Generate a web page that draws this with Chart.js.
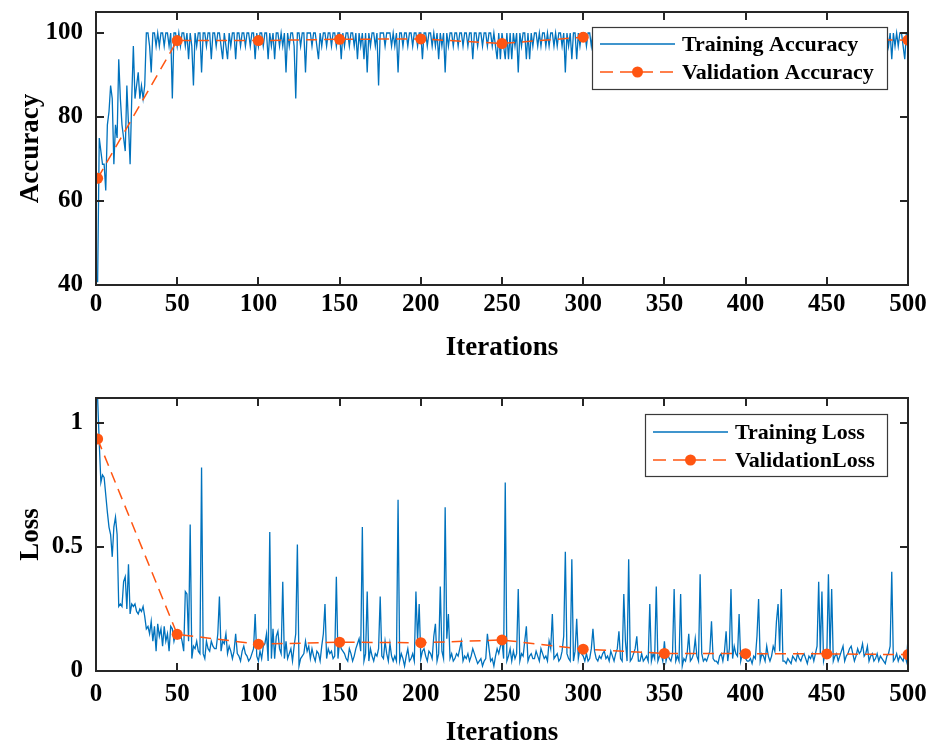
<!DOCTYPE html>
<html>
<head>
<meta charset="utf-8">
<script src="https://cdn.jsdelivr.net/npm/chart.js@4.4.1/dist/chart.umd.min.js"></script>
<style>
html,body{margin:0;padding:0;background:#fff;width:931px;height:745px;overflow:hidden}
.wrap{position:absolute;left:0;width:931px}
canvas{display:block}
</style>
</head>
<body>
<div class="wrap" style="top:0;height:372px"><canvas id="c1" width="931" height="372"></canvas></div>
<div class="wrap" style="top:372px;height:373px"><canvas id="c2" width="931" height="373"></canvas></div>
<script>
// ---------------- data ----------------
const iterations = Array.from({length: 500}, (_, i) => i + 1); // iteration index 1..500
const xTicks = [0, 50, 100, 150, 200, 250, 300, 350, 400, 450, 500];
const accTicks = [40, 60, 80, 100];
const lossTicks = [0, 0.5, 1];
const lossTickLabels = ['0', '0.5', '1'];

const trainingAccuracy = [
  40.63, 75, 71.88, 68.75, 68.75, 62.5, 78.13, 81.25, 87.5, 84.38,
  68.75, 78.13, 75, 93.75, 84.38, 78.13, 75, 71.88, 87.5, 78.13,
  68.75, 84.38, 96.88, 84.38, 87.5, 90.63, 84.38, 87.5, 84.38, 87.5,
  100, 100, 96.88, 90.63, 100, 100, 96.88, 100, 96.88, 100,
  100, 96.88, 100, 100, 96.88, 100, 84.38, 100, 100, 96.88,
  100, 96.88, 100, 100, 96.88, 100, 93.75, 100, 96.88, 87.5,
  100, 96.88, 100, 100, 90.63, 100, 100, 96.88, 100, 100,
  93.75, 100, 100, 96.88, 100, 100, 96.88, 93.75, 100, 96.88,
  93.75, 100, 96.88, 100, 100, 93.75, 100, 100, 96.88, 100,
  100, 96.88, 100, 100, 96.88, 100, 100, 93.75, 100, 96.88,
  100, 100, 96.88, 100, 100, 93.75, 100, 96.88, 100, 93.75,
  100, 100, 96.88, 100, 96.88, 100, 90.63, 100, 96.88, 100,
  100, 96.88, 84.38, 100, 100, 96.88, 100, 100, 90.63, 100,
  100, 100, 96.88, 100, 100, 96.88, 93.75, 100, 96.88, 100,
  100, 96.88, 100, 100, 96.88, 100, 100, 96.88, 100, 100,
  93.75, 100, 96.88, 100, 100, 96.88, 100, 100, 96.88, 100,
  93.75, 100, 96.88, 100, 93.75, 100, 90.63, 100, 96.88, 100,
  100, 96.88, 100, 87.5, 100, 100, 100, 96.88, 100, 100,
  100, 96.88, 100, 96.88, 100, 90.63, 100, 100, 96.88, 100,
  100, 96.88, 100, 100, 96.88, 100, 100, 96.88, 100, 100,
  93.75, 100, 100, 96.88, 100, 100, 96.88, 100, 96.88, 100,
  93.75, 100, 96.88, 100, 90.63, 100, 96.88, 100, 100, 96.88,
  100, 100, 96.88, 100, 100, 96.88, 100, 100, 96.88, 100,
  100, 93.75, 100, 100, 96.88, 100, 100, 96.88, 100, 100,
  96.88, 100, 100, 96.88, 100, 96.88, 93.75, 100, 93.75, 100,
  96.88, 93.75, 100, 93.75, 100, 93.75, 100, 96.88, 100, 90.63,
  100, 96.88, 100, 100, 93.75, 100, 93.75, 100, 96.88, 100,
  100, 96.88, 100, 96.88, 100, 100, 96.88, 100, 96.88, 100,
  100, 96.88, 100, 96.88, 100, 100, 96.88, 100, 90.63, 100,
  96.88, 100, 93.75, 100, 100, 93.75, 100, 96.88, 100, 100,
  100, 96.88, 100, 100, 96.88, 100, 100, 93.75, 100, 96.88,
  100, 100, 96.88, 100, 100, 96.88, 100, 93.75, 100, 100,
  96.88, 100, 100, 96.88, 100, 90.63, 100, 96.88, 100, 100,
  96.88, 100, 100, 100, 96.88, 100, 93.75, 100, 100, 96.88,
  100, 100, 96.88, 100, 96.88, 100, 100, 93.75, 100, 100,
  100, 96.88, 100, 100, 96.88, 100, 100, 96.88, 100, 93.75,
  100, 100, 96.88, 100, 100, 96.88, 100, 100, 96.88, 100,
  93.75, 100, 100, 96.88, 100, 100, 100, 96.88, 100, 96.88,
  100, 100, 96.88, 100, 100, 93.75, 100, 96.88, 100, 100,
  90.63, 100, 100, 96.88, 100, 100, 96.88, 100, 100, 100,
  96.88, 100, 100, 96.88, 100, 100, 93.75, 100, 100, 96.88,
  100, 100, 96.88, 100, 100, 96.88, 100, 93.75, 100, 96.88,
  100, 93.75, 100, 100, 96.88, 100, 100, 100, 96.88, 100,
  100, 96.88, 100, 100, 96.88, 100, 100, 96.88, 100, 100,
  96.88, 100, 100, 96.88, 93.75, 100, 96.88, 100, 100, 96.88,
  93.75, 100, 96.88, 100, 100, 96.88, 100, 100, 96.88, 100,
  100, 96.88, 100, 100, 96.88, 100, 100, 96.88, 100, 100,
  96.88, 100, 100, 96.88, 100, 100, 96.88, 100, 100, 96.88,
  100, 100, 96.88, 100, 100, 96.88, 100, 96.88, 100, 93.75,
  100, 96.88, 100, 96.88, 100, 100, 96.88, 93.75, 100, 100
];

const trainingLoss = [
  1.10, 0.92, 0.76, 0.79, 0.78, 0.71, 0.64, 0.58, 0.55, 0.46,
  0.58, 0.62, 0.55, 0.26, 0.27, 0.26, 0.36, 0.38, 0.25, 0.43,
  0.23, 0.27, 0.26, 0.27, 0.24, 0.23, 0.25, 0.24, 0.26, 0.22,
  0.17, 0.18, 0.15, 0.20, 0.12, 0.18, 0.08, 0.19, 0.14, 0.17,
  0.10, 0.18, 0.12, 0.15, 0.08, 0.18, 0.17, 0.12, 0.15, 0.13,
  0.14, 0.15, 0.12, 0.08, 0.32, 0.31, 0.12, 0.59, 0.05, 0.10,
  0.09, 0.12, 0.08, 0.07, 0.82, 0.07, 0.05, 0.12, 0.09, 0.08,
  0.12, 0.10, 0.09, 0.09, 0.15, 0.30, 0.08, 0.12, 0.11, 0.15,
  0.07, 0.10, 0.08, 0.05, 0.08, 0.15, 0.07, 0.06, 0.04, 0.08,
  0.10, 0.07, 0.06, 0.04, 0.05, 0.07, 0.09, 0.23, 0.06, 0.04,
  0.08, 0.05, 0.10, 0.11, 0.15, 0.04, 0.56, 0.05, 0.17, 0.05,
  0.14, 0.16, 0.09, 0.07, 0.36, 0.05, 0.12, 0.05, 0.07, 0.09,
  0.04, 0.10, 0.15, 0.51, 0.02, 0.05, 0.06, 0.07, 0.12, 0.08,
  0.10, 0.05, 0.09, 0.06, 0.04, 0.08, 0.07, 0.04, 0.10, 0.15,
  0.27, 0.05, 0.09, 0.07, 0.08, 0.05, 0.06, 0.38, 0.05, 0.12,
  0.09, 0.08, 0.07, 0.05, 0.04, 0.09, 0.07, 0.04, 0.06, 0.09,
  0.11, 0.13, 0.08, 0.58, 0.04, 0.07, 0.32, 0.04, 0.09, 0.06,
  0.04, 0.07, 0.06, 0.09, 0.30, 0.06, 0.05, 0.12, 0.07, 0.04,
  0.11, 0.06, 0.04, 0.06, 0.04, 0.69, 0.04, 0.07, 0.05, 0.02,
  0.06, 0.09, 0.04, 0.05, 0.07, 0.04, 0.32, 0.12, 0.27, 0.05,
  0.08, 0.09, 0.06, 0.04, 0.08, 0.07, 0.05, 0.14, 0.19, 0.04,
  0.07, 0.34, 0.08, 0.05, 0.66, 0.13, 0.23, 0.05, 0.07, 0.04,
  0.05, 0.07, 0.06, 0.09, 0.12, 0.04, 0.06, 0.05, 0.07, 0.04,
  0.06, 0.09, 0.07, 0.05, 0.03, 0.04, 0.05, 0.02, 0.04, 0.05,
  0.15, 0.09, 0.04, 0.05, 0.02, 0.06, 0.09, 0.07, 0.10, 0.12,
  0.05, 0.76, 0.04, 0.06, 0.09, 0.04, 0.08, 0.05, 0.07, 0.33,
  0.04, 0.07, 0.06, 0.12, 0.18, 0.04, 0.06, 0.07, 0.05, 0.05,
  0.08, 0.06, 0.04, 0.09, 0.07, 0.05, 0.06, 0.04, 0.12, 0.09,
  0.23, 0.05, 0.06, 0.07, 0.04, 0.05, 0.08, 0.14, 0.48, 0.07,
  0.05, 0.04, 0.45, 0.04, 0.08, 0.21, 0.05, 0.09, 0.07, 0.06,
  0.04, 0.07, 0.04, 0.05, 0.09, 0.17, 0.08, 0.05, 0.04, 0.06,
  0.05, 0.07, 0.08, 0.05, 0.06, 0.04, 0.08, 0.06, 0.04, 0.07,
  0.09, 0.16, 0.05, 0.04, 0.31, 0.12, 0.04, 0.45, 0.04, 0.05,
  0.07, 0.09, 0.14, 0.04, 0.04, 0.07, 0.04, 0.05, 0.06, 0.04,
  0.27, 0.04, 0.07, 0.05, 0.34, 0.04, 0.06, 0.07, 0.04, 0.12,
  0.04, 0.07, 0.05, 0.04, 0.07, 0.33, 0.04, 0.06, 0.04, 0.31,
  0.02, 0.05, 0.04, 0.07, 0.15, 0.04, 0.05, 0.07, 0.13, 0.06,
  0.04, 0.39, 0.07, 0.04, 0.05, 0.04, 0.06, 0.08, 0.20, 0.05,
  0.04, 0.04, 0.03, 0.06, 0.07, 0.04, 0.08, 0.16, 0.04, 0.09,
  0.33, 0.05, 0.10, 0.07, 0.06, 0.23, 0.04, 0.07, 0.06, 0.05,
  0.04, 0.04, 0.05, 0.03, 0.06, 0.05, 0.14, 0.29, 0.04, 0.07,
  0.06, 0.04, 0.10, 0.06, 0.04, 0.06, 0.10, 0.08, 0.20, 0.27,
  0.08, 0.33, 0.04, 0.04, 0.03, 0.05, 0.04, 0.03, 0.06, 0.05,
  0.04, 0.07, 0.05, 0.04, 0.06, 0.07, 0.05, 0.03, 0.06, 0.05,
  0.07, 0.04, 0.07, 0.10, 0.36, 0.07, 0.32, 0.04, 0.07, 0.06,
  0.39, 0.07, 0.33, 0.04, 0.06, 0.07, 0.04, 0.06, 0.08, 0.10,
  0.04, 0.06, 0.07, 0.09, 0.10, 0.07, 0.04, 0.06, 0.09, 0.07,
  0.08, 0.11, 0.06, 0.07, 0.10, 0.04, 0.06, 0.07, 0.04, 0.05,
  0.07, 0.04, 0.06, 0.05, 0.04, 0.03, 0.06, 0.07, 0.10, 0.40,
  0.04, 0.05, 0.07, 0.04, 0.06, 0.05, 0.04, 0.07, 0.04, 0.13
];

const validationIterations = [1, 50, 100, 150, 200, 250, 300, 350, 400, 450, 500];
const validationAccuracy = [65.4, 98.2, 98.2, 98.5, 98.6, 97.5, 99.0, 98.9, 98.8, 98.6, 98.3];
const validationLoss = [0.935, 0.148, 0.108, 0.116, 0.114, 0.125, 0.088, 0.071, 0.070, 0.069, 0.066];

// ---------------- styling ----------------
const FONT = '"Liberation Serif", "Times New Roman", serif';
const BLUE = '#0072BD';
const ORANGE = '#FF5511';
const AXIS = '#262626';

const matlabAxes = {
  id: 'matlabAxes',
  afterDatasetsDraw(chart) {
    const {ctx, chartArea: a, scales: {x, y}} = chart;
    const L = 8;
    ctx.save();
    ctx.strokeStyle = AXIS;
    ctx.lineWidth = 2;
    ctx.beginPath();
    x.ticks.forEach(t => {
      const px = Math.round(x.getPixelForValue(t.value));
      ctx.moveTo(px, a.bottom); ctx.lineTo(px, a.bottom - L);
      ctx.moveTo(px, a.top); ctx.lineTo(px, a.top + L);
    });
    y.ticks.forEach(t => {
      const py = Math.round(y.getPixelForValue(t.value));
      ctx.moveTo(a.left, py); ctx.lineTo(a.left + L, py);
      ctx.moveTo(a.right, py); ctx.lineTo(a.right - L, py);
    });
    ctx.stroke();
    ctx.strokeRect(a.left, a.top, a.right - a.left, a.bottom - a.top);
    ctx.restore();
  }
};

const boxLegend = {
  id: 'boxLegend',
  afterDraw(chart, args, o) {
    const {ctx, chartArea: a} = chart;
    const ds = chart.data.datasets;
    ctx.save();
    ctx.font = 'bold ' + o.fontSize + 'px ' + FONT;
    const tw = Math.max(...ds.map(d => ctx.measureText(d.label).width));
    const w = Math.round(o.padL + o.sample + o.gap + tw + o.padR);
    const h = o.height;
    const x0 = Math.round(a.right - o.right - w);
    const y0 = Math.round(a.top + o.top);
    ctx.fillStyle = '#fff';
    ctx.fillRect(x0, y0, w, h);
    ctx.strokeStyle = '#3a3a3a';
    ctx.lineWidth = 1.2;
    ctx.strokeRect(x0 + 0.5, y0 + 0.5, w, h);
    ds.forEach((d, i) => {
      const cy = y0 + o.rows[i];
      const sx = x0 + o.padL, ex = sx + o.sample;
      ctx.strokeStyle = d.borderColor;
      ctx.lineWidth = d.borderWidth;
      ctx.setLineDash(d.borderDash ? [13, 7] : []);
      ctx.beginPath(); ctx.moveTo(sx, cy); ctx.lineTo(ex, cy); ctx.stroke();
      ctx.setLineDash([]);
      if (d.pointRadius > 0) {
        ctx.fillStyle = d.pointBackgroundColor;
        ctx.beginPath(); ctx.arc((sx + ex) / 2, cy, d.pointRadius, 0, Math.PI * 2); ctx.fill();
      }
      ctx.fillStyle = '#000';
      ctx.textAlign = 'left';
      ctx.textBaseline = 'middle';
      ctx.fillText(d.label, ex + o.gap, cy + 1);
    });
    ctx.restore();
  }
};

function makeChart(id, cfg) {
  const tickFont = {family: FONT, size: 25, weight: 'bold'};
  const titleFont = {family: FONT, size: 27, weight: 'bold'};
  return new Chart(document.getElementById(id), {
    type: 'line',
    data: {
      labels: iterations,
      datasets: [
        {
          label: cfg.trainLabel,
          data: cfg.train,
          borderColor: BLUE,
          backgroundColor: BLUE,
          borderWidth: 1.3,
          pointRadius: 0,
          tension: 0,
          order: 2
        },
        {
          label: cfg.valLabel,
          data: validationIterations.map((it, i) => ({x: it, y: cfg.val[i]})),
          borderColor: ORANGE,
          backgroundColor: ORANGE,
          pointBackgroundColor: ORANGE,
          pointBorderColor: ORANGE,
          borderWidth: 1.5,
          borderDash: [11, 7],
          pointRadius: 5.5,
          pointBorderWidth: 0,
          tension: 0,
          order: 1
        }
      ]
    },
    options: {
      responsive: false,
      animation: false,
      events: [],
      layout: {padding: {top: cfg.padTop, right: 23, left: 0, bottom: 0}},
      scales: {
        x: {
          type: 'linear',
          min: 0, max: 500,
          afterBuildTicks: s => { s.ticks = xTicks.map(v => ({value: v})); },
          afterFit: s => { s.height = cfg.xAxisH; s.paddingLeft = 0; s.paddingRight = 0; },
          grid: {display: false, drawTicks: false},
          border: {display: false},
          ticks: {font: tickFont, color: '#000', padding: cfg.xTickPad, maxRotation: 0, autoSkip: false},
          title: {display: true, text: 'Iterations', font: titleFont, color: '#000', padding: {top: 0, bottom: cfg.titleBottom}}
        },
        y: {
          type: 'linear',
          min: cfg.yMin, max: cfg.yMax,
          afterBuildTicks: s => { s.ticks = cfg.yTicks.map(v => ({value: v})); },
          afterFit: s => { s.width = 96; s.paddingTop = 0; s.paddingBottom = 0; },
          grid: {display: false, drawTicks: false},
          border: {display: false},
          ticks: {font: tickFont, color: '#000', padding: 13, callback: cfg.yLabel},
          title: {display: true, text: cfg.yTitle, font: titleFont, color: '#000', padding: {top: 15, bottom: 0}}
        }
      },
      plugins: {
        legend: {display: false},
        tooltip: {enabled: false},
        boxLegend: cfg.legend
      }
    },
    plugins: [matlabAxes, boxLegend]
  });
}

makeChart('c1', {
  train: trainingAccuracy, val: validationAccuracy,
  trainLabel: 'Training Accuracy', valLabel: 'Validation Accuracy',
  yMin: 40, yMax: 105, yTicks: accTicks, yTitle: 'Accuracy',
  yLabel: v => String(v),
  padTop: 12, xAxisH: 87, titleBottom: 8, xTickPad: 5,
  legend: {fontSize: 22, padL: 8, sample: 75, gap: 7, padR: 13, height: 62, right: 21, top: 15, rows: [17, 45]}
});

makeChart('c2', {
  train: trainingLoss, val: validationLoss,
  trainLabel: 'Training Loss', valLabel: 'ValidationLoss',
  yMin: 0, yMax: 1.1, yTicks: lossTicks, yTitle: 'Loss',
  yLabel: (v, i) => lossTickLabels[i],
  padTop: 26, xAxisH: 74, titleBottom: -4, xTickPad: 9,
  legend: {fontSize: 22, padL: 8, sample: 75, gap: 7, padR: 12, height: 62, right: 21, top: 16, rows: [18, 46]}
});
</script>
</body>
</html>
